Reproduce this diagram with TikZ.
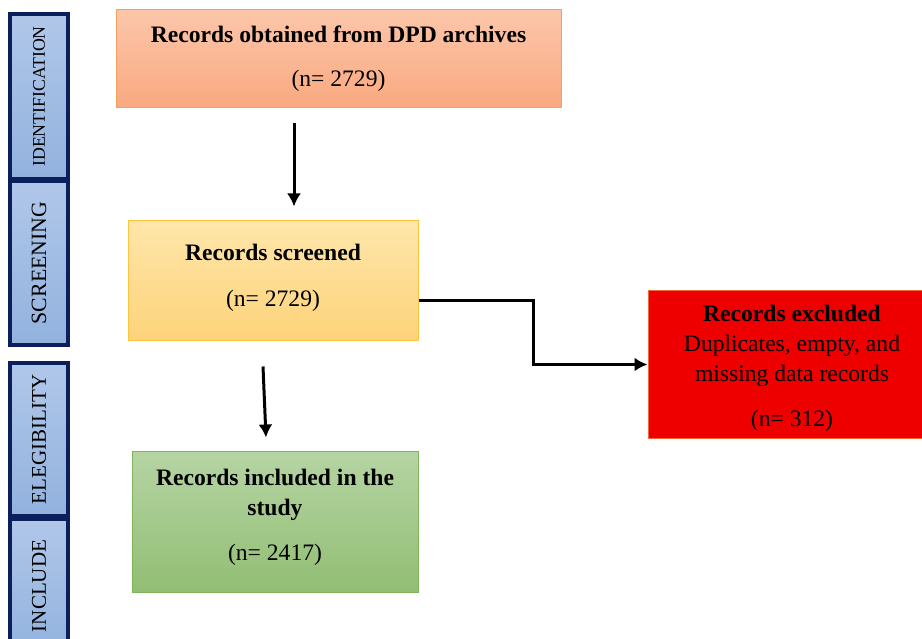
\documentclass[tikz,border=0pt]{standalone}
\usepackage{fontspec}
\setmainfont{Liberation Serif}
\usepackage{graphicx}
\usetikzlibrary{arrows.meta,calc}
\definecolor{navy}{HTML}{0A1F5C}
\definecolor{sbtop}{HTML}{B0C7E9}
\definecolor{sbbot}{HTML}{92B2DE}
\definecolor{ortop}{HTML}{FCC6AA}
\definecolor{orbot}{HTML}{F9A97F}
\definecolor{orbd}{HTML}{F5A05C}
\definecolor{yetop}{HTML}{FEE6AA}
\definecolor{yebot}{HTML}{FDD37A}
\definecolor{yebd}{HTML}{FCC440}
\definecolor{grtop}{HTML}{B5D4A3}
\definecolor{grbot}{HTML}{92BE74}
\definecolor{grbd}{HTML}{7FB45A}
\definecolor{redf}{HTML}{EE0000}
\definecolor{redbd}{HTML}{F26A3A}
\begin{document}
\begin{tikzpicture}[x=1pt,y=-1pt,
  sidebox/.style={draw=navy, line width=3.5pt, top color=sbtop, bottom color=sbbot,
    minimum width=58pt, inner sep=0pt, font=\fontsize{21}{24}\selectfont},
  flowbox/.style={line width=1pt, align=center, inner sep=0pt,
    font=\fontsize{23.6}{30}\selectfont},
  arrow/.style={line width=3pt, -{Latex[length=13pt,width=14pt]}}
]
\useasboundingbox (0,0) rectangle (922,639);
% side bars
\node[sidebox, minimum height=165pt, font=\fontsize{17.8}{20}\selectfont] (ident) at (39,96.5) {\rotatebox{90}{IDENTIFICATION}};
\node[sidebox, minimum height=164pt, font=\fontsize{21.8}{24}\selectfont] (scr) at (39,263) {\rotatebox{90}{SCREENING}};
\node[sidebox, minimum height=153pt] (eleg) at (39,439.5) {\rotatebox{90}{ELEGIBILITY}};
\node[sidebox, minimum height=134pt] (incl) at (39,586) {\rotatebox{90}{INCLUDE}};
% flow boxes
\node[flowbox, draw=orbd, top color=ortop, bottom color=orbot, minimum width=445pt, minimum height=98pt] (orange) at (338.5,59)
  {\textbf{Records obtained from DPD archives}\\[14pt](n= 2729)};
\node[flowbox, draw=yebd, top color=yetop, bottom color=yebot, minimum width=290pt, minimum height=120pt, text depth=11pt] (yellow) at (273,281)
  {\textbf{Records screened}\\[16pt](n= 2729)};
\node[flowbox, draw=redbd, fill=redf, minimum width=288pt, minimum height=147pt, text height=130pt] (red) at (792,364.5)
  {\textbf{Records excluded}\\Duplicates, empty, and\\missing data records\\[15pt](n= 312)};
\node[flowbox, draw=grbd, top color=grtop, bottom color=grbot, minimum width=286pt, minimum height=141pt, text depth=13pt] (green) at (275,521.5)
  {\textbf{Records included in the}\\\textbf{study}\\[15pt](n= 2417)};
% connectors
\draw[arrow] ($(orange.south)+(-44.5,15)$) -- ($(yellow.north)+(21,-14)$);
\draw[arrow] ($(yellow.east)+(0,20)$) -- ++(115,0) |- (red.west);
\draw[arrow] ($(yellow.south)+(-10,25)$) -- ($(green.north)+(-9,-13)$);
\end{tikzpicture}
\end{document}
